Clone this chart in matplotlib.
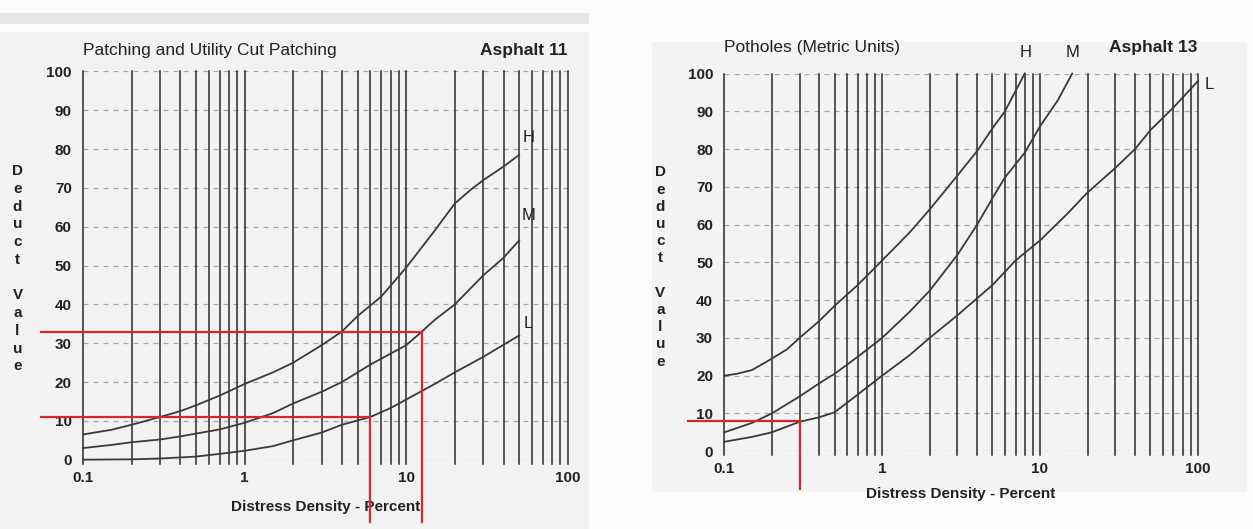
import matplotlib.pyplot as plt
from matplotlib.patches import Rectangle

# Courbes du graphique de gauche (Asphalt 11 - Patching)
h1_x = [0.1, 0.15, 0.2, 0.3, 0.4, 0.5, 0.7, 1, 1.5, 2, 3, 4, 5, 7, 10, 15, 20, 25, 30, 40, 50]
h1_y = [6.5, 7.7, 9, 11, 12.5, 14, 16.5, 19.5, 22.5, 25, 29.5, 33, 37, 42, 49.5, 59, 66,
        69.5, 72, 75.5, 78.5]
m1_x = [0.1, 0.15, 0.2, 0.3, 0.4, 0.7, 1, 1.5, 2, 3, 4, 6, 10, 12.5, 15, 20, 30, 40, 50]
m1_y = [3, 3.8, 4.5, 5.2, 6, 7.8, 9.5, 12, 14.5, 17.5, 20, 24.5, 29.5, 33, 36, 40, 47.5,
        52, 56.5]
l1_x = [0.1, 0.2, 0.3, 0.5, 0.7, 1, 1.5, 2, 3, 4, 6, 8, 10, 15, 20, 30, 50]
l1_y = [0, 0.1, 0.3, 0.8, 1.5, 2.3, 3.5, 5, 7, 9, 11, 13.3, 15.5, 19.5, 22.5, 26.5, 32]

# Courbes du graphique de droite (Asphalt 13 - Potholes)
h2_x = [0.1, 0.12, 0.15, 0.2, 0.25, 0.3, 0.4, 0.5, 0.7, 1, 1.5, 2, 3, 4, 5, 6, 8]
h2_y = [20, 20.5, 21.5, 24.5, 27, 30, 34.5, 38.5, 44, 50.5, 58, 64, 73, 79.5, 85.5, 90, 100]
m2_x = [0.1, 0.15, 0.2, 0.3, 0.4, 0.5, 0.7, 1, 1.5, 2, 3, 4, 5, 6, 8, 10, 13, 16]
m2_y = [5, 7.5, 10, 14.5, 18, 20.5, 25, 30, 37, 42.5, 52, 60, 67, 72.5, 79, 86, 93, 100]
l2_x = [0.1, 0.15, 0.2, 0.3, 0.4, 0.5, 0.7, 1, 1.5, 2, 3, 4, 5, 7, 10, 15, 20, 30, 40, 50,
        70, 100]
l2_y = [2.5, 3.8, 5, 7.8, 9, 10.3, 15, 20, 25.5, 30, 36, 40.5, 44, 50.5, 55.8, 63, 68.5,
        75, 80, 85, 91, 98]

# Lectures en rouge : (densité, valeur déduite)
lectures_gauche = [(12.5, 33), (6.0, 11)]
lectures_droite = [(0.3, 8)]

# Positions des étiquettes H / M / L
etiq_gauche = [("H", 57, 83), ("M", 57, 63), ("L", 57, 35)]
etiq_droite = [("H", 8.1, 105.5), ("M", 16, 105.5), ("L", 118, 97)]

graduations_y = [0, 10, 20, 30, 40, 50, 60, 70, 80, 90, 100]
graduations_x = [0.1, 1, 10, 100]
labels_x = ["0.1", "1", "10", "100"]

plt.rcParams["font.family"] = ["Liberation Sans", "DejaVu Sans"]


def tracer_abaque(ax, courbes, lectures, etiquettes, titre, asphalte, gauche_x, bas_y,
                  y_titre, y_lettres, pas_lettres, pad_xlabel):
    ax.set_xscale("log")
    ax.set_xlim(0.1, 100)
    ax.set_ylim(0, 100)
    ax.set_facecolor("none")
    for s in ax.spines.values():
        s.set_visible(False)

    # lignes verticales de la grille log
    positions = []
    for dec in [0.1, 1, 10]:
        for k in range(1, 10):
            positions.append(dec * k)
    positions.append(100)
    for p in positions:
        ax.plot([p, p], [-1, 100], color="#2a2a2a", lw=1.1, zorder=1, clip_on=False)

    # lignes horizontales pointillées
    for v in graduations_y:
        ax.axhline(v, color="#a8a8a8", lw=0.9, ls=(0, (4, 4)), zorder=0)

    for x, y in courbes:
        ax.plot(x, y, color="#3a3a3a", lw=1.3, zorder=3, clip_on=False)

    for x, y in lectures:
        ax.plot([gauche_x, x], [y, y], color="#d8262b", lw=1.6, zorder=4, clip_on=False)
        ax.plot([x, x], [y, bas_y], color="#d8262b", lw=1.6, zorder=4, clip_on=False)

    for txt, x, y in etiquettes:
        ax.text(x, y, txt, fontsize=12, color="#222222", ha="center", va="center",
                clip_on=False)

    ax.set_xticks(graduations_x)
    ax.set_xticklabels(labels_x)
    ax.set_xticks([], minor=True)
    ax.set_yticks(graduations_y)
    ax.tick_params(length=0, labelsize=11, colors="#222222", pad=8)
    for t in ax.get_xticklabels() + ax.get_yticklabels():
        t.set_fontweight("bold")
    ax.set_xlabel("Distress Density - Percent", fontsize=11, fontweight="bold",
                  color="#222222", labelpad=pad_xlabel)

    ax.text(0.0, y_titre, titre, transform=ax.transAxes, fontsize=12.5, color="#222222",
            ha="left", va="center")
    ax.text(1.0, y_titre, asphalte, transform=ax.transAxes, fontsize=12.5, color="#222222",
            ha="right", va="center", fontweight="bold")

    # étiquette verticale "Deduct Value" lettre par lettre
    lettres = list("Deduct") + [""] + list("Value")
    for i, c in enumerate(lettres):
        ax.text(-0.135, y_lettres - i * pas_lettres, c, transform=ax.transAxes,
                fontsize=11, fontweight="bold", color="#222222", ha="center", va="center")


fig = plt.figure(figsize=(12.53, 5.29), dpi=100)
fig.patch.set_facecolor("#fbfbfb")
fig.patches.append(Rectangle((0.0, 0.955), 0.47, 0.02, transform=fig.transFigure,
                             facecolor="#e6e6e6", edgecolor="none", zorder=-5))
fig.patches.append(Rectangle((0.0, 0.0), 0.47, 0.94, transform=fig.transFigure,
                             facecolor="#f2f2f2", edgecolor="none", zorder=-5))
fig.patches.append(Rectangle((0.52, 0.07), 0.475, 0.85, transform=fig.transFigure,
                             facecolor="#f3f3f3", edgecolor="none", zorder=-5))

ax1 = fig.add_axes([0.0662, 0.131, 0.387, 0.734])
tracer_abaque(ax1, [(h1_x, h1_y), (m1_x, m1_y), (l1_x, l1_y)], lectures_gauche,
              etiq_gauche, "Patching and Utility Cut Patching", "Asphalt 11", 0.055, -16,
              1.055, 0.743, 0.0457, 11)

ax2 = fig.add_axes([0.578, 0.147, 0.378, 0.714])
tracer_abaque(ax2, [(h2_x, h2_y), (m2_x, m2_y), (l2_x, l2_y)], lectures_droite,
              etiq_droite, "Potholes (Metric Units)", "Asphalt 13", 0.059, -10,
              1.069, 0.738, 0.0455, 8)

fig.savefig("out.png", dpi=100)
